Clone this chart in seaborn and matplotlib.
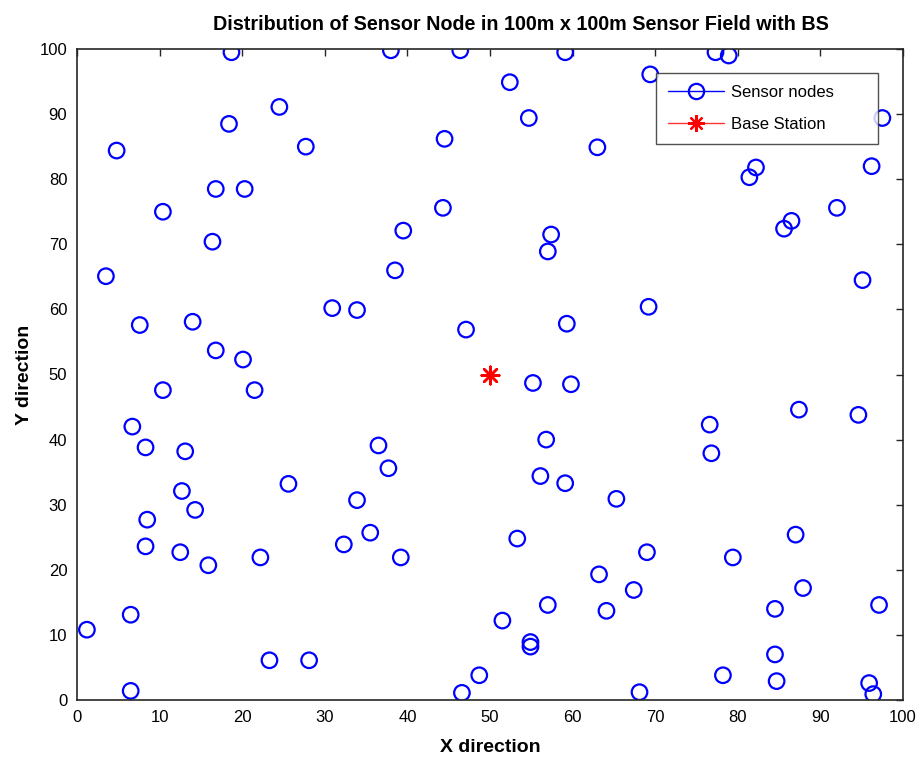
import numpy as np
import pandas as pd
import seaborn as sns
import matplotlib.pyplot as plt
from matplotlib.lines import Line2D

# sensor node positions (metres)
node_x = [18.7, 38.0, 46.4, 24.5, 18.4, 4.8, 27.7, 44.5, 16.8, 20.3, 10.4, 44.3,
          39.5, 16.4, 38.5, 3.5, 30.9, 33.9, 7.6, 14.0, 47.1, 16.8, 20.1,
          59.1, 77.3, 78.9, 69.4, 52.4, 54.7, 97.5, 63.0, 96.2, 82.2, 81.4, 92.0,
          86.5, 85.6, 57.4, 57.0, 95.1, 69.2, 59.3,
          10.4, 21.5, 6.7, 36.5, 8.3, 13.1, 37.7, 25.6, 12.7, 33.9, 14.3, 8.5,
          35.5, 32.3, 8.3, 12.5, 22.2, 39.2, 15.9, 6.5, 1.2, 23.3, 28.1, 48.7,
          6.5, 46.6,
          55.2, 59.8, 87.4, 94.6, 76.6, 56.8, 76.8, 56.1, 59.1, 65.3, 87.0, 53.3,
          69.0, 79.4, 63.2, 67.4, 87.9, 57.0, 64.1, 84.5, 97.1, 51.5, 54.9, 54.9,
          84.5, 78.2, 84.7, 95.9, 68.1, 96.4]
node_y = [99.5, 99.8, 99.8, 91.1, 88.5, 84.4, 85.0, 86.2, 78.5, 78.5, 75.0, 75.6,
          72.1, 70.4, 66.0, 65.1, 60.2, 59.9, 57.6, 58.1, 56.9, 53.7, 52.3,
          99.5, 99.5, 99.0, 96.1, 94.9, 89.4, 89.4, 84.9, 82.0, 81.8, 80.3, 75.6,
          73.6, 72.4, 71.5, 68.9, 64.5, 60.4, 57.8,
          47.6, 47.6, 42.0, 39.1, 38.8, 38.2, 35.6, 33.2, 32.1, 30.7, 29.2, 27.7,
          25.7, 23.9, 23.6, 22.7, 21.9, 21.9, 20.7, 13.1, 10.8, 6.1, 6.1, 3.8,
          1.4, 1.1,
          48.7, 48.5, 44.6, 43.8, 42.3, 40.0, 37.9, 34.4, 33.3, 30.9, 25.4, 24.8,
          22.7, 21.9, 19.3, 16.9, 17.2, 14.6, 13.7, 14.0, 14.6, 12.2, 8.9, 8.2,
          7.0, 3.8, 2.9, 2.6, 1.2, 0.9]
bs_x = [50]
bs_y = [50]

nodes = pd.DataFrame({"x": node_x, "y": node_y})
bs = pd.DataFrame({"x": bs_x, "y": bs_y})

sns.set_style("white")
plt.rcParams['font.family'] = ['Liberation Sans', 'DejaVu Sans']
plt.rcParams['text.color'] = 'black'
plt.rcParams['axes.labelcolor'] = 'black'

fig = plt.figure(figsize=(9.19, 7.57), dpi=100)
ax = fig.add_axes([77/919, 57/757, 826/919, 651/757])

sns.scatterplot(data=nodes, x="x", y="y", ax=ax, marker="o", s=125,
                facecolor="none", edgecolor="#0000ff", linewidth=1.6, legend=False)
sns.scatterplot(data=bs, x="x", y="y", ax=ax, marker=(8, 2, 0), s=160,
                color="red", edgecolor="red", linewidth=1.8, legend=False)

ax.set_xlim(0, 100)
ax.set_ylim(0, 100)
ax.set_xticks(range(0, 101, 10))
ax.set_yticks(range(0, 101, 10))
ax.tick_params(axis='both', which='both', direction='in', length=5, width=1,
               labelsize=12, top=True, right=True, pad=7, colors="#262626",
               labelcolor="black")
for s in ax.spines.values():
    s.set_color("#262626")
    s.set_linewidth(1.2)

ax.set_title("Distribution of Sensor Node in 100m x 100m Sensor Field with BS",
             fontsize=14.2, fontweight="bold", pad=14, x=0.537)
ax.set_xlabel("X direction", fontsize=14, fontweight="bold", labelpad=10)
ax.set_ylabel("Y direction", fontsize=14, fontweight="bold", labelpad=5)

handles = [
    Line2D([], [], color="#0000ff", marker="o", markerfacecolor="none",
           markeredgecolor="#0000ff", markersize=11, markeredgewidth=1.6, lw=1),
    Line2D([], [], color="#ff3333", marker=(8, 2, 0), markerfacecolor="red",
           markeredgecolor="red", markersize=12, markeredgewidth=1.6, lw=1),
]
leg = ax.legend(handles, ["Sensor nodes       ", "Base Station"], loc="upper right",
                bbox_to_anchor=(0.97, 0.963), frameon=True, fancybox=False,
                edgecolor="#262626", fontsize=12, borderpad=0.72, labelspacing=1.0,
                handlelength=3.4, handletextpad=0.4, borderaxespad=0)
leg.get_frame().set_linewidth(1.0)

fig.savefig("out.png", dpi=100)
